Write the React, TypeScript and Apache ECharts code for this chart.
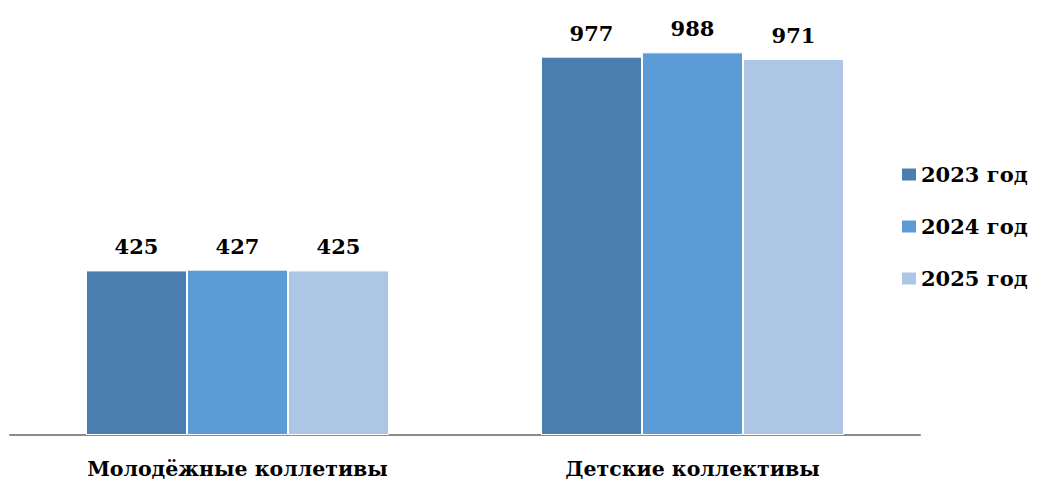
import React, { useEffect, useRef } from "react";
import * as echarts from "echarts";

const categories = ["Молодёжные коллетивы", "Детские коллективы"];
const seriesNames = ["2023 год", "2024 год", "2025 год"];
const values2023 = [425, 977];
const values2024 = [427, 988];
const values2025 = [425, 971];
const colors = ["#4a7eb0", "#5b9bd6", "#adc6e6"];

export default function App() {
  const ref = useRef<HTMLDivElement>(null);
  useEffect(() => {
    if (!ref.current) return;
    const chart = echarts.init(ref.current, null, { renderer: "svg" });
    const font = "DejaVu Serif";
    const data = [values2023, values2024, values2025];
    chart.setOption({
      animation: false,
      textStyle: { fontFamily: font },
      grid: { left: 10, right: 121, top: 9, bottom: 44 },
      legend: {
        orient: "vertical",
        left: 897,
        top: 159,
        itemWidth: 14,
        itemHeight: 12,
        itemGap: 31,
        itemStyle: { borderWidth: 0 },
        icon: "rect",
        textStyle: { fontFamily: font, fontWeight: "bold", fontSize: 21, color: "#000" },
        data: seriesNames,
      },
      xAxis: {
        type: "category",
        data: categories,
        axisLine: { lineStyle: { color: "#8c8c8c", width: 2 } },
        axisTick: { show: false },
        axisLabel: {
          fontFamily: font,
          fontWeight: "bold",
          fontSize: 20.5,
          color: "#000",
          margin: 23,
        },
      },
      yAxis: { type: "value", min: 0, max: 1100, show: false, splitLine: { show: false } },
      series: seriesNames.map((name, i) => ({
        name,
        type: "bar",
        data: data[i],
        barWidth: 101,
        barGap: "0%",
        itemStyle: { color: colors[i], borderColor: "#fff", borderWidth: 1 },
        label: {
          show: true,
          position: "top",
          distance: 13,
          fontFamily: font,
          fontWeight: "bold",
          fontSize: 21,
          color: "#000",
        },
      })),
    });
    return () => chart.dispose();
  }, []);
  return <div ref={ref} style={{ width: 1041, height: 479, position: "absolute", left: 0, top: 0 }} />;
}
